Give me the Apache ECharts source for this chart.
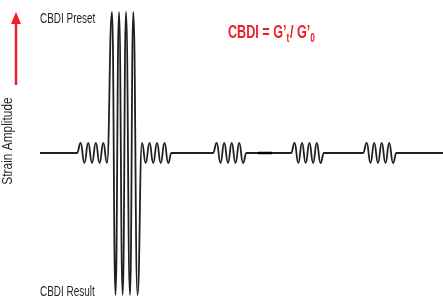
<!DOCTYPE html>
<html>
<head>
<meta charset="utf-8">
<script src="https://cdn.jsdelivr.net/npm/echarts@6/dist/echarts.min.js"></script>
<style>
  html, body { margin: 0; padding: 0; background: #fff; }
  #chart { width: 443px; height: 297px; }
</style>
</head>
<body>
<div id="chart"></div>
<script>
// time (arbitrary units) and strain amplitude (baseline = 0)
const leadIn = [[40, 0], [77, 0]];
const probe1 = [[80.6, 1], [84.4, -1], [88.2, 1], [92, -1], [95.8, 1], [99.6, -1], [103.3, 1], [107, -1]];
const preset = [[112, 14.1], [115.5, -14.2], [119, 14.1], [122.7, -14.2], [126, 14.1], [130, -14.2], [133.3, 14.1], [137.5, -14.2]];
const probe2 = [[142, 1], [145.7, -1], [149.5, 1], [153.2, -1], [157, 1], [160.7, -1], [164.5, 1], [168.2, -1], [171.5, 0], [213, 0]];
const probe3 = [[216.7, 1], [220.5, -1], [224.2, 1], [228, -1], [231.7, 1], [235.5, -1], [239.2, 1], [243, -1], [246.5, 0], [291, 0]];
const probe4 = [[294.6, 1], [298.3, -1], [302, 1], [305.7, -1], [309.4, 1], [313.1, -1], [316.8, 1], [320.5, -1], [324, 0], [363, 0]];
const probe5 = [[366.7, 1], [370.5, -1], [374.2, 1], [378, -1], [381.7, 1], [385.5, -1], [389.2, 1], [393, -1], [396.5, 0], [443, 0]];
const restMark = [[258, 0], [272, 0]];

const labels = {
  preset: 'CBDI Preset',
  result: 'CBDI Result',
  axis: 'Strain Amplitude',
};

const signal = [].concat(leadIn, probe1, preset, probe2, probe3, probe4, probe5);

const sans = "'Liberation Sans', Arial, sans-serif";
const red = '#ec1f27';
const ink = '#231f20';

const chart = echarts.init(document.getElementById('chart'));
const option = {
  animation: false,
  grid: { left: 0, right: 0, top: 8, bottom: 0 },
  xAxis: { type: 'value', min: 0, max: 443, show: false },
  yAxis: { type: 'value', min: -14.4, max: 14.5, show: false },
  series: [
    {
      type: 'line',
      data: signal,
      smooth: 0.5,
      smoothMonotone: 'x',
      symbol: 'none',
      lineStyle: { color: ink, width: 1.8 },
    },
    {
      type: 'line',
      data: restMark,
      symbol: 'none',
      z: 3,
      lineStyle: { color: '#000', width: 2.6 },
    },
  ],
  graphic: [
    {
      type: 'text', x: 40, y: 19, scaleX: 0.71,
      style: { text: labels.preset, font: '14px ' + sans, fill: ink, verticalAlign: 'middle' },
    },
    {
      type: 'text', x: 40, y: 292, scaleX: 0.71,
      style: { text: labels.result, font: '14px ' + sans, fill: ink, verticalAlign: 'middle' },
    },
    {
      type: 'text', x: 8, y: 141, rotation: Math.PI / 2, scaleX: 0.85,
      style: { text: labels.axis, font: '14px ' + sans, fill: ink, align: 'center', verticalAlign: 'middle' },
    },
    {
      type: 'line',
      shape: { x1: 16, y1: 85, x2: 16, y2: 22 },
      style: { stroke: red, lineWidth: 2.5 },
    },
    {
      type: 'polygon',
      shape: { points: [[11, 24], [21, 24], [16, 12]] },
      style: { fill: red },
    },
    {
      type: 'text', x: 228, y: 32, scaleX: 0.7,
      style: {
        text: '{b|CBDI = G’}{s|t}{b|/ G’}{s|0}',
        verticalAlign: 'middle',
        rich: {
          b: { fontSize: 18, fontWeight: 'bold', fontFamily: sans, fill: red, color: red, lineHeight: 20, verticalAlign: 'bottom' },
          s: { fontSize: 12, fontWeight: 'bold', fontFamily: sans, fill: red, color: red, lineHeight: 14, verticalAlign: 'bottom', padding: [0, 1, -3, 0] },
        },
      },
    },
  ],
};
chart.setOption(option);
</script>
</body>
</html>
